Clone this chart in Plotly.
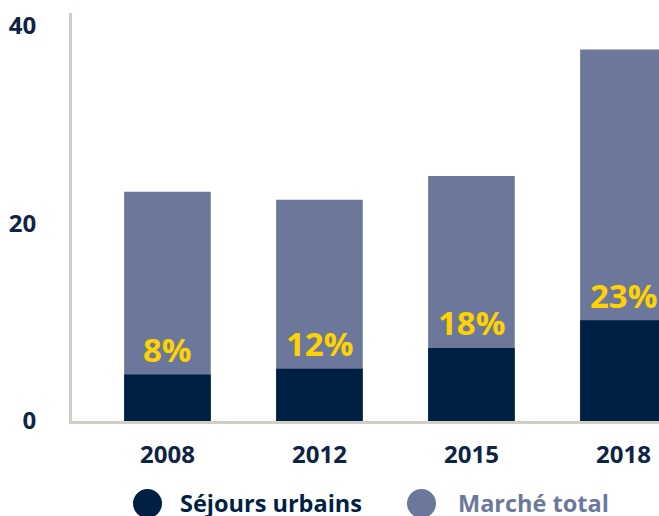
import plotly.graph_objects as go

years = ["2008", "2012", "2015", "2018"]
total_market = [23.2, 22.4, 24.8, 37.6]
urban_stays = [4.7, 5.3, 7.4, 10.2]
shares = ["8%", "12%", "18%", "23%"]
y_ticks = [0, 20, 40]

NAVY = "#001f45"
GREY_BLUE = "#6b789b"
YELLOW = "#ffd200"
AXIS = "#d3cec4"
TEXT = "#0f2347"
FONT = "Open Sans"

W, H = 659, 516
L, T, B = 72, 13, 95
PW, PH = W - L, H - T - B

fig = go.Figure()
fig.add_trace(go.Bar(x=years, y=total_market, name="Marché total",
                     marker=dict(color=GREY_BLUE, line=dict(width=0)), width=0.570))
fig.add_trace(go.Bar(x=years, y=urban_stays, name="Séjours urbains",
                     marker=dict(color=NAVY, line=dict(width=0)), width=0.570))

for i, (u, s) in enumerate(zip(urban_stays, shares)):
    fig.add_annotation(x=i, y=u, text=s, showarrow=False, yanchor="middle", yshift=25,
                       font=dict(family=FONT, size=33, color=YELLOW, weight="bold"))


def px_x(x):
    return (x - L) / PW


def px_y(y):
    return (H - B - y) / PH


# custom legend (large circles)
legend_items = [("Séjours urbains", NAVY, 133, 179), ("Marché total", GREY_BLUE, 407, 457)]
for label, col, cx, tx in legend_items:
    fig.add_shape(type="circle", xref="paper", yref="paper",
                  x0=px_x(cx), x1=px_x(cx + 29),
                  y0=px_y(518), y1=px_y(489),
                  fillcolor=col, line=dict(width=0))
    fig.add_annotation(xref="paper", yref="paper", x=px_x(tx), y=px_y(503),
                       text=label, showarrow=False, xanchor="left", yanchor="middle",
                       xshift=-1, font=dict(family=FONT, size=23.5, color=col, weight="bold"))

fig.update_layout(
    width=W, height=H,
    margin=dict(l=L, r=0, t=T, b=B, autoexpand=False),
    paper_bgcolor="white", plot_bgcolor="white",
    barmode="overlay", showlegend=False,
    font=dict(family=FONT, color=TEXT),
    xaxis=dict(type="category", range=[-0.628, 3.234], showgrid=False, showline=True,
               linecolor=AXIS, linewidth=3, ticks="", ticklabelstandoff=10,
               automargin=False,
               tickfont=dict(family=FONT, size=24, color=TEXT, weight="bold")),
    yaxis=dict(range=[0, 41.3], tickvals=y_ticks, showgrid=False, showline=True,
               linecolor=AXIS, linewidth=3, ticks="", zeroline=False, ticklabelstandoff=28,
               automargin=False,
               tickfont=dict(family=FONT, size=24, color=TEXT, weight="bold")),
)

fig.write_html(
    "out.html",
    config={"displayModeBar": False},
    post_script="document.body.style.margin='0';"
                "document.documentElement.style.overflow='hidden';"
                "document.body.style.overflow='hidden';",
)
